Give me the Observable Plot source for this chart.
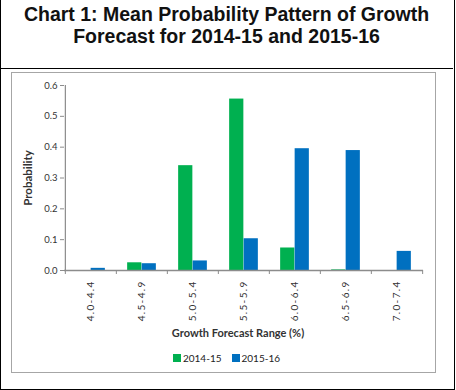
<!DOCTYPE html>
<html>
<head>
<meta charset="utf-8">
<script src="https://cdn.jsdelivr.net/npm/d3@7"></script>
<script src="https://cdn.jsdelivr.net/npm/@observablehq/plot@0.6"></script>
<style>
  body { margin: 0; background: #fff; }
  #outer { position: absolute; left: 0; top: 0; width: 455px; height: 390px; box-sizing: border-box;
           border: 1px solid #000; border-top: none; background: #fff; }
  #title { position: absolute; left: 0; top: 0; width: 453px; height: 69px; border-bottom: 1px solid #000;
           font-family: "Liberation Sans", Arial, sans-serif; font-weight: bold; font-size: 19.5px;
           line-height: 22px; text-align: center; color: #111; padding-top: 3px; box-sizing: border-box; }
  #inner { position: absolute; left: 11px; top: 72px; width: 425px; height: 301px; box-sizing: border-box;
           border: 1px solid #a6a6a6; }
  #chart { position: absolute; left: 12px; top: 73px; }
  #legend { position: absolute; top: 352px; left: 0; width: 453px; text-align: center;
            font-family: Lato, "Liberation Sans", sans-serif; font-size: 10px; color: #222; }
  #legend span.sw { display: inline-block; width: 8px; height: 8px; margin-right: 2px; vertical-align: 0px; }
  #legend span.item { margin: 0 5px; }
</style>
</head>
<body>
<div id="outer"></div>
<div id="title">Chart 1: Mean Probability Pattern of Growth<br>Forecast for 2014-15 and 2015-16</div>
<div id="inner"></div>
<div id="chart"></div>
<div id="legend"></div>
<script>
const categories = ["4.0-4.4","4.5-4.9","5.0-5.4","5.5-5.9","6.0-6.4","6.5-6.9","7.0-7.4"];
const series = ["2014-15", "2015-16"];
const values2014 = [0, 0.025, 0.34, 0.556, 0.073, 0.002, 0];
const values2015 = [0.007, 0.022, 0.031, 0.103, 0.395, 0.389, 0.062];
const yTicks = [0, 0.1, 0.2, 0.3, 0.4, 0.5, 0.6];
const colors = ["#00B050", "#0070C0"];

const W = 423, H = 272, ML = 52, MR = 12, MT = 12, MB = 75;
const bw = (W - ML - MR) / categories.length;
const barW = 14.5;

const d2014 = categories.map((c, i) => ({cat: c, series: series[0], value: values2014[i]}));
const d2015 = categories.map((c, i) => ({cat: c, series: series[1], value: values2015[i]}));

const chart = Plot.plot({
  width: W, height: H,
  marginLeft: ML, marginRight: MR, marginTop: MT, marginBottom: MB,
  style: {fontFamily: "Lato, 'Liberation Sans', sans-serif", fontSize: "9.5px", color: "#333", background: "transparent"},
  x: {type: "band", domain: categories, padding: 0},
  y: {domain: [0, 0.6]},
  marks: [
    Plot.barY(d2014, {x: "cat", y: "value", fill: colors[0], insetLeft: bw/2 - barW, insetRight: bw/2}),
    Plot.barY(d2015, {x: "cat", y: "value", fill: colors[1], insetLeft: bw/2, insetRight: bw/2 - barW}),
    Plot.ruleY([0], {stroke: "#8c8c8c", strokeWidth: 1.5}),
    Plot.ruleX([categories[0]], {dx: -bw/2, y1: 0, y2: 0.6, stroke: "#8c8c8c", strokeWidth: 1.2}),
    Plot.axisY({ticks: yTicks, tickFormat: d3.format(".1f"), tickSize: 4, tickPadding: 3, color: "#8c8c8c",
                label: null, fill: "#333"}),
    Plot.axisX({ticks: categories, tickSize: 4, tickFormat: () => "", dx: -bw/2, label: null, color: "#8c8c8c"}),
    Plot.axisX({ticks: categories.slice(-1), tickSize: 4, tickFormat: () => "", dx: bw/2, label: null, color: "#8c8c8c"}),
    Plot.axisX({ticks: categories, tickSize: 0, tickPadding: 10, tickRotate: -90, label: null,
                fontSize: 10, fill: "#333"}),
    Plot.text(["Growth Forecast Range (%)"], {frameAnchor: "bottom", dy: 66, fontSize: 11, fontWeight: "bold", fill: "#333", dx: -6}),
    Plot.text(["Probability"], {frameAnchor: "left", textAnchor: "middle", dx: -36, rotate: -90, fontSize: 11.5, fontWeight: "bold", fill: "#333"})
  ]
});
d3.select(chart).selectAll('g[aria-label="x-axis tick label"] text').style("letter-spacing", "1.3px");
document.getElementById("chart").appendChild(chart);

const legend = document.getElementById("legend");
legend.innerHTML = series.map((s, i) =>
  `<span class="item"><span class="sw" style="background:${colors[i]}"></span>${s}</span>`).join("");
</script>
</body>
</html>
